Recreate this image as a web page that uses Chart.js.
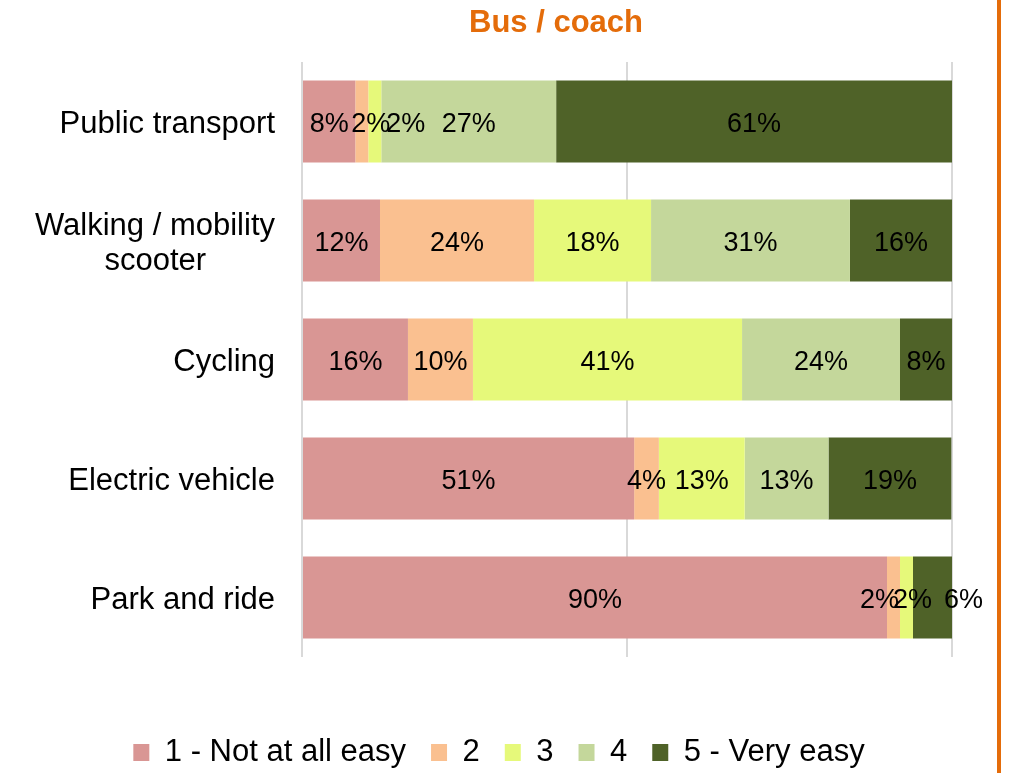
<!DOCTYPE html>
<html>
<head>
<meta charset="utf-8">
<script src="https://cdn.jsdelivr.net/npm/chart.js@4/dist/chart.umd.min.js"></script>
<style>
  html, body { margin: 0; padding: 0; background: #fff; }
  #wrap { position: relative; width: 1014px; height: 773px; overflow: hidden; }
  #title {
    position: absolute; top: 6px; left: 556px; transform: translateX(-50%);
    font: bold 31px 'Liberation Sans', Arial, sans-serif; line-height: 1;
    color: #E46C0A; white-space: nowrap;
  }
  #edge { position: absolute; left: 997px; top: 0; width: 4px; height: 773px; background: #E46C0A; }
  canvas { position: absolute; left: 0; top: 0; }
</style>
</head>
<body>
<div id="wrap">
  <canvas id="chart" width="1014" height="773"></canvas>
  <div id="title">Bus / coach</div>
  <div id="edge"></div>
</div>
<script>
const categories = [
    'Public transport',
    ['Walking / mobility', 'scooter        '],
    'Cycling',
    'Electric vehicle',
    'Park and ride'
]
const seriesNames = ['1 - Not at all easy', '2', '3', '4', '5 - Very easy']
const notAtAllEasy = [8.2, 12, 16.3, 51.1, 90]
const two = [2, 23.7, 10, 3.8, 2]
const three = [2, 18, 41.4, 13.2, 2]
const four = [26.9, 30.6, 24.3, 12.9, 0]
const veryEasy = [60.9, 15.7, 8, 18.9, 6]
const xTicks = [0, 50, 100]

const colours = ['#D99694', '#FAC090', '#E6F97A', '#C4D79B', '#4F6228']
const font = "'Liberation Sans', Arial, sans-serif"

// labels that were moved by hand in the original, key = row-series
const nudge = { '0-1': 9, '0-2': 31, '4-1': -14, '4-2': 6, '4-4': 31 }

const barLabels = {
    id: 'barLabels',
    afterDatasetsDraw(chart) {
        const ctx = chart.ctx
        ctx.save()
        ctx.font = '27px ' + font
        ctx.fillStyle = '#000'
        ctx.textAlign = 'center'
        ctx.textBaseline = 'middle'
        chart.data.datasets.forEach((ds, i) => {
            chart.getDatasetMeta(i).data.forEach((bar, j) => {
                const v = ds.data[j]
                if (!v) return
                const p = bar.getProps(['x', 'y', 'base'], true)
                const cx = (p.x + p.base) / 2 + (nudge[j + '-' + i] || 0)
                ctx.fillText(Math.round(v) + '%', cx, p.y + 3)
            })
        })
        ctx.restore()
    }
}

const values = [notAtAllEasy, two, three, four, veryEasy]

new Chart(document.getElementById('chart'), {
    type: 'bar',
    data: {
        labels: categories,
        datasets: values.map((d, i) => ({
            label: seriesNames[i],
            data: d,
            backgroundColor: colours[i],
            borderWidth: 0,
            categoryPercentage: 1,
            barPercentage: 0.69
        }))
    },
    options: {
        indexAxis: 'y',
        responsive: false,
        animation: false,
        devicePixelRatio: 1,
        layout: { padding: { top: 62, right: 16, bottom: -5, left: 0 } },
        scales: {
            x: {
                stacked: true,
                min: 0,
                max: 100,
                afterBuildTicks: s => { s.ticks = xTicks.map(v => ({ value: v })) },
                ticks: { display: false },
                grid: { color: '#D9D9D9', lineWidth: 2, drawTicks: false },
                border: { display: false },
                afterFit: s => { s.height = 55 }
            },
            y: {
                stacked: true,
                grid: { display: false },
                border: { display: false },
                ticks: {
                    color: '#000',
                    padding: 19,
                    labelOffset: 3,
                    font: { family: font, size: 31, lineHeight: 1.13 }
                },
                afterFit: s => { s.width = 302 }
            },
            yRight: {
                type: 'category',
                axis: 'y',
                position: 'right',
                grid: { display: false },
                border: { display: false },
                ticks: { display: false },
                afterFit: s => { s.width = 46 }
            }
        },
        plugins: {
            legend: {
                position: 'bottom',
                labels: {
                    color: '#000',
                    boxWidth: 16,
                    boxHeight: 17,
                    padding: 25,
                    font: { family: font, size: 31 }
                }
            },
            tooltip: { enabled: false },
            title: { display: false }
        }
    },
    plugins: [barLabels]
})
</script>
</body>
</html>
